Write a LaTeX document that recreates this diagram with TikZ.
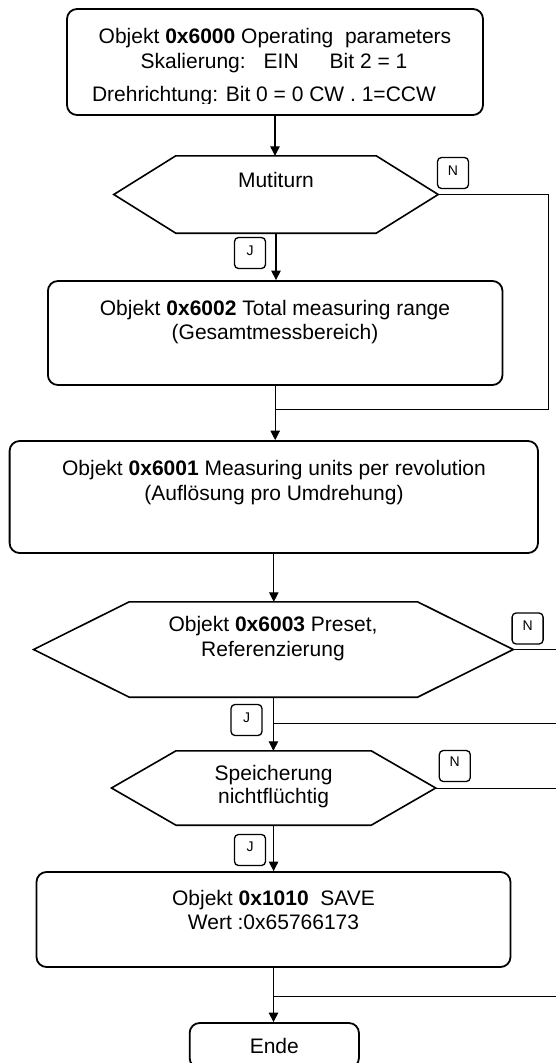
\documentclass[tikz,border=0pt]{standalone}
\usepackage{fontspec}
\setmainfont{Liberation Sans}
\usetikzlibrary{arrows.meta,calc}
\tikzset{
  box/.style={draw, line width=1.8pt, rounded corners=10pt, inner sep=0pt},
  hexframe/.style={draw=none, inner sep=0pt},
  hexline/.style={line width=1.6pt, line join=miter},
  tag/.style={draw, line width=1.3pt, rounded corners=4pt, minimum width=31pt, minimum height=31pt, inner sep=0pt},
  tagtxt/.style={font=\fontsize{14}{16}\selectfont, anchor=base, inner sep=0pt},
  txt/.style={font=\fontsize{21}{25}\selectfont, anchor=base, inner sep=0pt},
  flow/.style={line width=1.1pt, -{Triangle[length=9.5pt,width=9.5pt]}},
  link/.style={line width=1pt},
}
\newcommand{\hexdraw}[2]{%
  \draw[hexline] (#1.west) -- ([xshift=#2]#1.north west) -- ([xshift=-#2]#1.north east)
    -- (#1.east) -- ([xshift=-#2]#1.south east) -- ([xshift=#2]#1.south west) -- cycle;}
\begin{document}
\begin{tikzpicture}[x=1pt,y=-1pt]
\useasboundingbox (0,0) rectangle (556,1063);
\clip (0,0) rectangle (556,1063);

% Box 1
\node[box, minimum width=416pt, minimum height=106pt] (box1) at (275,62) {};
\node[txt] (t1a) at (275,43) {Objekt \textbf{0x6000} Operating\ \ parameters};
\node[txt] (t1b) at (274,68) {Skalierung:\hspace{18pt}EIN\hspace{31pt}Bit 2 = 1};
\begin{scope}
  \clip (60,80) rectangle (490,103);
  \node[txt] (t1c) at (264,101) {Drehrichtung: Bit 0 = 0 CW . 1=CCW};
\end{scope}

% Hexagon 1
\node[hexframe, minimum width=324pt, minimum height=77pt] (hex1) at (276,194.5) {};
\hexdraw{hex1}{62pt}
\node[txt] (t2) at (276,187.5) {Mutiturn};
\node[tag] (n1) at (453,173) {};
\node[tagtxt] (n1t) at (453,175) {N};
\node[tag] (j1) at (250,253) {};
\node[tagtxt] (j1t) at (250,255) {J};

% Box 2
\node[box, minimum width=454.6pt, minimum height=104pt] (box2) at (275.2,333) {};
\node[txt] (t3a) at (275,315) {Objekt \textbf{0x6002} Total measuring range};
\node[txt] (t3b) at (275,339) {(Gesamtmessbereich)};

% Box 3
\node[box, minimum width=528.4pt, minimum height=112pt] (box3) at (273.8,497) {};
\node[txt] (t4a) at (274,475) {Objekt \textbf{0x6001} Measuring units per revolution};
\node[txt] (t4b) at (274,500) {(Auflösung pro Umdrehung)};

% Hexagon 2
\node[hexframe, minimum width=479.3pt, minimum height=95pt] (hex2) at (273.4,649.5) {};
\hexdraw{hex2}{95.7pt}
\node[txt] (t5a) at (273,631) {Objekt \textbf{0x6003} Preset,};
\node[txt] (t5b) at (273,656) {Referenzierung};
\node[tag] (n2) at (527.6,628.5) {};
\node[tagtxt] (n2t) at (527.6,630) {N};
\node[tag] (j2) at (246.5,720) {};
\node[tagtxt] (j2t) at (246.5,722.7) {J};

% Hexagon 3
\node[hexframe, minimum width=323.8pt, minimum height=74pt] (hex3) at (273.6,788) {};
\hexdraw{hex3}{64.5pt}
\node[txt] (t6a) at (273.6,780) {Speicherung};
\node[txt] (t6b) at (273.6,803.3) {nichtflüchtig};
\node[tag] (n3) at (454.8,766) {};
\node[tagtxt] (n3t) at (454.8,766.7) {N};
\node[tag] (j3) at (250,850) {};
\node[tagtxt] (j3t) at (250,851.7) {J};

% Box 4
\node[box, minimum width=474pt, minimum height=95pt] (box4) at (273.5,919.5) {};
\node[txt] (t7a) at (273.5,905) {Objekt \textbf{0x1010}\ \ SAVE};
\node[txt] (t7b) at (273.5,929.3) {Wert :0x65766173};

% Ende
\node[box, minimum width=169.3pt, minimum height=45pt] (ende) at (274.3,1045.5) {};
\node[txt] (t8) at (274.3,1053.3) {Ende};

% coordinates for side lines
\coordinate (c1) at (548,409);
\coordinate (c1j) at (275.2,409);
\coordinate (e2) at (556,649.5);
\coordinate (k2) at (273.4,723);
\coordinate (k2e) at (556,723);
\coordinate (e3) at (556,788);
\coordinate (k4) at (273.5,996);
\coordinate (k4e) at (556,996);

% main flow
\draw[flow] (box1.south) -- (box1.south |- hex1.north);
\draw[flow] (hex1.south) -- (hex1.south |- box2.north);
\draw[flow] (box2.south) -- (box2.south |- box3.north);
\draw[flow] (box3.south) -- (box3.south |- hex2.north);
\draw[flow] (hex2.south) -- (hex2.south |- hex3.north);
\draw[flow] (hex3.south) -- (hex3.south |- box4.north);
\draw[flow] (box4.south) -- (box4.south |- ende.north);

% side lines
\draw[link] (hex1.east) -| (c1) -- (c1j);
\draw[link] (hex2.east) -- (e2);
\draw[link] (k2) -- (k2e);
\draw[link] (hex3.east) -- (e3);
\draw[link] (k4) -- (k4e);
\end{tikzpicture}
\end{document}
